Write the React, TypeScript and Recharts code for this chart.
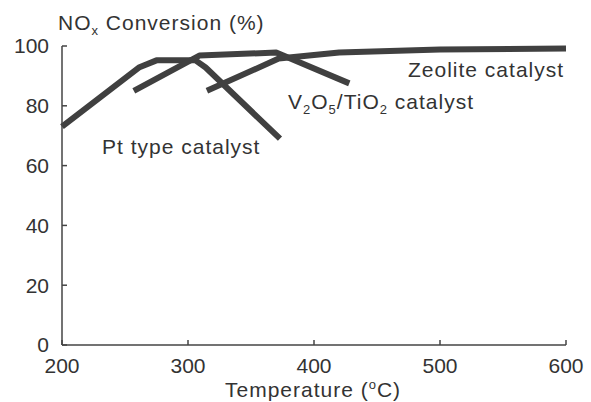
import React from "react";
import { LineChart, Line, XAxis, YAxis } from "recharts";

// temperatures (°C) and NOx conversion (%)
const ptTemp = [200, 261, 275, 306, 314, 373];
const ptConv = [73, 92.8, 95.2, 95.2, 92.8, 69];

const vTemp = [257, 309, 370, 428];
const vConv = [85, 96.8, 97.8, 87.5];

const zeoTemp = [315, 372, 420, 500, 600];
const zeoConv = [85, 95.8, 97.8, 98.8, 99.2];

const xTicks = [200, 300, 400, 500, 600];
const yTicks = [0, 20, 40, 60, 80, 100];

const toRows = (t: number[], c: number[]) => t.map((x, i) => ({ t: x, conv: c[i] }));

const ink = "#333";
const lineColor = "#404040";
const font = "'Liberation Sans', Arial, sans-serif";

const txt: React.CSSProperties = {
  position: "absolute",
  fontFamily: font,
  fontSize: 21,
  lineHeight: "21px",
  letterSpacing: 1,
  color: ink,
  whiteSpace: "nowrap",
};

const sub: React.CSSProperties = { fontSize: 13, position: "relative", top: 5, verticalAlign: "baseline" };
const sup: React.CSSProperties = { fontSize: 13, position: "relative", top: -8, verticalAlign: "baseline" };

export default function App() {
  return (
    <div style={{ position: "absolute", left: 0, top: 0, width: 591, height: 402, background: "#fff", overflow: "hidden" }}>
      <LineChart width={591} height={402} margin={{ top: 46, right: 25, bottom: 0, left: 0 }}>
        <XAxis
          type="number"
          dataKey="t"
          domain={[200, 600]}
          ticks={xTicks}
          allowDuplicatedCategory={false}
          height={57}
          tickSize={-5}
          tickMargin={18}
          stroke="#444"
          strokeWidth={1.5}
          tick={{ fill: ink, fontSize: 21, fontFamily: font }}
        />
        <YAxis
          type="number"
          domain={[0, 100]}
          ticks={yTicks}
          width={62}
          tickSize={-5}
          tickMargin={18}
          stroke="#444"
          strokeWidth={1.5}
          tick={{ fill: ink, fontSize: 21, fontFamily: font }}
        />
        <Line data={toRows(ptTemp, ptConv)} dataKey="conv" type="linear" stroke={lineColor} strokeWidth={6} dot={false} strokeLinejoin="round" isAnimationActive={false} />
        <Line data={toRows(vTemp, vConv)} dataKey="conv" type="linear" stroke={lineColor} strokeWidth={6} dot={false} strokeLinejoin="round" isAnimationActive={false} />
        <Line data={toRows(zeoTemp, zeoConv)} dataKey="conv" type="linear" stroke={lineColor} strokeWidth={6} dot={false} strokeLinejoin="round" isAnimationActive={false} />
      </LineChart>

      <div style={{ ...txt, left: 58, top: 12 }}>
        NO<span style={sub}>x</span> Conversion (%)
      </div>
      <div style={{ ...txt, left: 225, top: 379 }}>
        Temperature (<span style={sup}>o</span>C)
      </div>
      <div style={{ ...txt, left: 408, top: 59 }}>Zeolite catalyst</div>
      <div style={{ ...txt, left: 288, top: 91 }}>
        V<span style={sub}>2</span>O<span style={sub}>5</span>/TiO<span style={sub}>2</span> catalyst
      </div>
      <div style={{ ...txt, left: 102, top: 136 }}>Pt type catalyst</div>
    </div>
  );
}
